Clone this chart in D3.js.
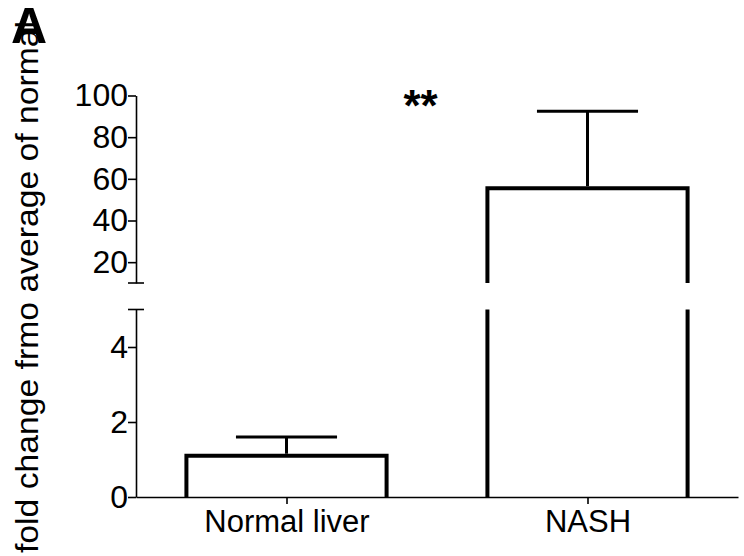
<!DOCTYPE html>
<html><head><meta charset="utf-8">
<script src="https://cdn.jsdelivr.net/npm/d3@7"></script>
<style>
html,body{margin:0;padding:0;background:#fff;}
svg{display:block;font-family:"Liberation Sans",Arial,sans-serif;}
</style></head>
<body>
<svg id="chart" width="744" height="556"></svg>
<script>
const categories = ["Normal liver", "NASH"];
const means = [1.1, 55.5];
const errUpper = [1.6, 92.5];
const lowTicks = [0, 2, 4];
const highTicks = [20, 40, 60, 80, 100];
const lowDomain = [0, 5];
const highDomain = [10, 100];
const yTitle = "fold change frmo average of normal";
const panelLabel = "A";
const sigLabel = "**";

const svg = d3.select("#chart");
const axisX = 136, axisRight = 738;

const x = d3.scalePoint().domain(categories).range([axisX, axisRight]).padding(0.5);
const step = x.step();
const barW = step * 0.665;
const capW = barW * 0.505;

const yLow = d3.scaleLinear().domain(lowDomain).range([497, 309.5]);
const yHigh = d3.scaleLinear().domain(highDomain).range([283, 95.5]);

function styleAxis(g, fs) {
  g.attr("font-size", null).attr("font-family", null);
  g.selectAll("path.domain").attr("stroke", "#000").attr("stroke-width", 1.6);
  g.selectAll(".tick line").attr("stroke", "#000").attr("stroke-width", 1.6);
  g.selectAll(".tick text").attr("fill", "#000").style("font-size", fs + "px")
    .style("font-family", '"Liberation Sans",Arial,sans-serif');
}

const fmt = d3.format("d");
// low y axis
const gLow = svg.append("g").attr("transform", `translate(${axisX},0)`)
  .call(d3.axisLeft(yLow).tickValues(lowTicks).tickFormat(fmt).tickSize(8).tickSizeOuter(0).tickPadding(0));
styleAxis(gLow, 32);
// high y axis
const gHigh = svg.append("g").attr("transform", `translate(${axisX},0)`)
  .call(d3.axisLeft(yHigh).tickValues(highTicks).tickFormat(fmt).tickSize(8).tickSizeOuter(0).tickPadding(0));
styleAxis(gHigh, 32);

// break caps
[yLow(lowDomain[1]), yHigh(highDomain[0])].forEach(yy => {
  svg.append("line").attr("x1", axisX - 8).attr("x2", axisX + 8)
    .attr("y1", yy).attr("y2", yy).attr("stroke", "#000").attr("stroke-width", 1.6);
});

// x axis
const gX = svg.append("g").attr("transform", `translate(0,${yLow(0)})`)
  .call(d3.axisBottom(x).tickSize(7).tickSizeOuter(0).tickPadding(6));
styleAxis(gX, 31);

// bars
categories.forEach((c, i) => {
  const cx = x(c), x0 = cx - barW / 2, x1 = cx + barW / 2;
  const v = means[i];
  const bar = svg.append("g").attr("fill", "none").attr("stroke", "#000")
    .attr("stroke-width", 4).attr("stroke-linejoin", "miter").attr("stroke-linecap", "butt");
  let topY;
  if (v <= lowDomain[1]) {
    topY = yLow(v);
    bar.append("path").attr("d", `M${x0},${yLow(0)}V${topY}H${x1}V${yLow(0)}`);
  } else {
    topY = yHigh(v);
    bar.append("path").attr("d", `M${x0},${yLow(0)}V${yLow(lowDomain[1])}M${x1},${yLow(0)}V${yLow(lowDomain[1])}`);
    bar.append("path").attr("d", `M${x0},${yHigh(highDomain[0])}V${topY}H${x1}V${yHigh(highDomain[0])}`);
  }
  const ey = errUpper[i] <= lowDomain[1] ? yLow(errUpper[i]) : yHigh(errUpper[i]);
  const eb = svg.append("g").attr("stroke", "#000").attr("stroke-width", 3).attr("fill", "none");
  eb.append("line").attr("x1", cx).attr("x2", cx).attr("y1", topY - 2).attr("y2", ey);
  eb.append("line").attr("x1", cx - capW / 2).attr("x2", cx + capW / 2).attr("y1", ey).attr("y2", ey);
});

// significance
svg.append("text").attr("x", 420.5).attr("y", 121).attr("text-anchor", "middle")
  .style("font-size", "44px").style("font-weight", "bold").text(sigLabel);

// y title
svg.append("text").attr("transform", "translate(38,553) rotate(-90)")
  .attr("text-anchor", "start").style("font-size", "32px").attr("fill", "#000")
  .attr("textLength", 532).attr("lengthAdjust", "spacingAndGlyphs").text(yTitle);

// panel label
svg.append("text").attr("x", 11).attr("y", 43).style("font-size", "50px")
  .style("font-weight", "bold").text(panelLabel);
</script>
</body></html>
